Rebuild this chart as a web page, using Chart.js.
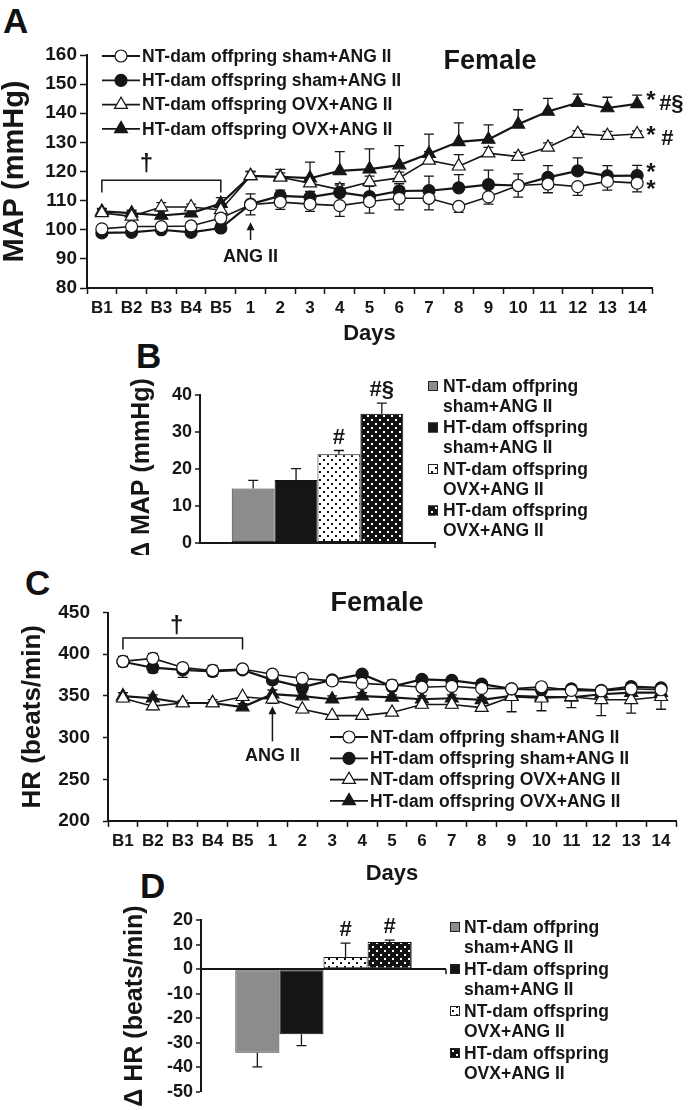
<!DOCTYPE html>
<html><head><meta charset="utf-8">
<script src="https://cdn.jsdelivr.net/npm/chart.js@4.4.1/dist/chart.umd.min.js"></script>
<style>
html,body{margin:0;padding:0;background:#fff;}
body{width:689px;height:1110px;position:relative;overflow:hidden;font-family:"Liberation Sans",Arial,Helvetica,sans-serif;}
.wrap{position:absolute;}
.letter{position:absolute;font-weight:bold;font-size:35px;line-height:1;color:#111;}
</style></head><body>
<div class="letter" style="left:3px;top:3px">A</div>
<div class="letter" style="left:136px;top:338px">B</div>
<div class="letter" style="left:25px;top:565px">C</div>
<div class="letter" style="left:140px;top:868px">D</div>
<div class="wrap" style="left:0;top:40px;width:689px;height:305px"><canvas id="cA"></canvas></div>
<div class="wrap" style="left:130px;top:370px;width:559px;height:185px"><canvas id="cB"></canvas></div>
<div class="wrap" style="left:20px;top:590px;width:669px;height:295px"><canvas id="cC"></canvas></div>
<div class="wrap" style="left:123px;top:905px;width:566px;height:205px"><canvas id="cD"></canvas></div>
<script>
// ---------------- data ----------------
const days = ['B1','B2','B3','B4','B5','1','2','3','4','5','6','7','8','9','10','11','12','13','14'];
const groupNames = ['NT-dam offpring sham+ANG II','HT-dam offspring sham+ANG II','NT-dam offspring OVX+ANG II','HT-dam offspring OVX+ANG II'];
const barLegendLines = [['NT-dam offpring','sham+ANG II'],['HT-dam offspring','sham+ANG II'],['NT-dam offspring','OVX+ANG II'],['HT-dam offspring','OVX+ANG II']];

// Panel A: MAP (mmHg)
const mapNTsham = [100.3,101.1,101.1,101.3,104.0,108.6,109.5,108.8,108.3,109.7,110.8,110.8,108.0,111.3,115.2,115.7,114.8,116.6,116.0];
const mapHTsham = [98.9,99.1,100.0,99.1,100.6,108.8,111.6,111.2,112.8,111.4,113.3,113.4,114.4,115.5,115.2,118.0,120.2,118.5,118.6];
const mapNTovx  = [105.8,104.6,107.8,107.8,106.8,118.5,118.0,116.0,113.8,116.4,117.8,123.8,121.8,126.3,125.1,128.3,133.0,132.3,132.9];
const mapHTovx  = [106.3,105.7,104.9,105.7,109.0,118.5,118.2,117.7,120.2,120.8,122.2,126.1,130.2,131.0,136.2,140.6,143.6,141.8,143.2];
const mapNTshamErr = [1.5,1.5,1.0,1.5,1.5,3.5,2.5,2.5,3.7,4.0,4.0,4.0,2.0,2.5,4.0,3.0,3.0,3.0,3.0];
const mapHTshamErr = [1.0,1.0,1.0,1.0,1.5,3.5,2.0,2.0,2.5,3.5,2.5,5.0,4.5,5.0,4.0,4.0,4.5,3.5,3.5];
const mapNTovxErr  = [1.0,1.5,1.5,1.0,2.0,1.5,1.5,2.0,2.0,2.0,2.0,3.0,4.0,2.0,1.5,1.5,1.0,1.5,1.0];
const mapHTovxErr  = [1.0,1.0,1.5,1.5,2.0,1.5,2.5,5.5,6.6,7.0,6.7,6.7,6.5,5.0,5.0,4.5,3.0,3.7,3.0];

// Panel B: delta MAP (mmHg)
const deltaMAP    = [14.7,17.0,24.0,34.9];
const deltaMAPErr = [2.2,3.1,1.0,2.9];
const deltaMAPSig = ['','','#','#§'];

// Panel C: HR (beats/min)
const hrNTsham = [391.4,395.0,384.0,380.5,382.3,376.0,371.0,368.0,365.0,363.0,360.4,361.5,359.0,358.5,361.0,356.6,356.0,358.5,357.4];
const hrHTsham = [391.0,383.8,381.2,379.3,381.2,369.2,360.5,369.2,376.0,361.3,369.8,368.7,364.2,358.5,357.4,358.5,356.6,361.2,359.7];
const hrNTovx  = [347.2,337.7,341.5,341.5,349.0,346.0,334.0,326.4,326.4,330.2,339.7,339.7,336.0,349.0,347.2,349.0,345.3,345.3,349.0];
const hrHTovx  = [349.8,347.2,341.5,341.5,336.6,352.1,349.8,346.0,349.8,348.3,346.0,347.2,345.3,350.0,349.0,348.3,352.0,354.0,354.0];
const hrNTshamErr = [6,6,5,6,3,3,3,3,4,6,5,4,3,4,4,4,4,3,3];
const hrHTshamErr = [6,6,9,6,4,5,5,6,5,5,5,4,4,5,5,6,5,3,5];
const hrNTovxErr  = [4,4,4,4,4,5,4,4,4,3,4,4,4,18,15,13,19,16,15];
const hrHTovxErr  = [4,4,3,4,4,5,4,4,4,3,4,4,3,4,4,4,4,4,4];

// Panel D: delta HR (beats/min)
const deltaHR    = [-34.0,-26.5,4.9,11.0];
const deltaHRErr = [5.8,4.6,5.7,0.8];
const deltaHRSig = ['','','#','#'];

// ---------------- styling helpers ----------------
const FF = '"Liberation Sans", Arial, Helvetica, sans-serif';
const INK = '#161616';
Chart.defaults.font.family = FF;
Chart.defaults.color = INK;
function fnt(size){ return {family:FF, size:size, weight:'bold', lineHeight:1}; }
function cssFont(size){ return 'bold ' + size + 'px ' + FF; }

function dotPattern(bg, fg){
  const c = document.createElement('canvas'); c.width = 8; c.height = 8;
  const g = c.getContext('2d');
  g.fillStyle = bg; g.fillRect(0,0,8,8);
  g.fillStyle = fg; g.fillRect(1,1,2,2); g.fillRect(5,5,2,2);
  return g.createPattern(c,'repeat');
}
const barFills = ['#8c8c8c','#151515',dotPattern('#ffffff','#111111'),dotPattern('#111111','#ffffff')];
const barBorders = ['#3a3a3a','#111111','#111111','#111111'];
const CIRCLE_R = 6, TRI_R = 7.5;

function drawMarker(ctx, style, filled, x, y){
  ctx.beginPath();
  if (style === 'circle') { ctx.arc(x, y, CIRCLE_R, 0, Math.PI*2); }
  else {
    for (let k=0;k<3;k++){ const a = k*2*Math.PI/3; const px = x + Math.sin(a)*TRI_R, py = y - Math.cos(a)*TRI_R; k? ctx.lineTo(px,py):ctx.moveTo(px,py); }
    ctx.closePath();
  }
  ctx.fillStyle = filled ? INK : '#fff'; ctx.fill();
  ctx.lineWidth = 1.2; ctx.strokeStyle = INK; ctx.stroke();
}

const EXTRA = {};
const X = (c,i) => c.scales.x.getPixelForValue(i);
const Y = (c,v) => c.scales.y.getPixelForValue(v);

const figPlugin = {
  id: 'figExtras',
  beforeDatasetsDraw(chart){
    const cfg = EXTRA[chart.canvas.id]; if (!cfg || !cfg.errors) return;
    const ctx = chart.ctx; ctx.save();
    ctx.strokeStyle = INK; ctx.lineWidth = 1.3;
    cfg.errors.forEach((errs, di) => {
      const meta = chart.getDatasetMeta(di);
      const vals = chart.data.datasets[di].data;
      meta.data.forEach((el, j) => {
        const v = vals[j], e = errs[j]; if (!e) return;
        const dir = cfg.dirs ? cfg.dirs[di] : (v >= 0 ? 1 : -1);
        const end = v + dir*e;
        const p0 = Y(chart, v), p1 = Y(chart, end), cap = cfg.cap || 4;
        ctx.beginPath(); ctx.moveTo(el.x, p0); ctx.lineTo(el.x, p1);
        ctx.moveTo(el.x-cap, p1); ctx.lineTo(el.x+cap, p1); ctx.stroke();
      });
    });
    ctx.restore();
  },
  afterDatasetsDraw(chart){
    const cfg = EXTRA[chart.canvas.id]; if (!cfg) return;
    const ctx = chart.ctx; ctx.save();
    ctx.strokeStyle = INK; ctx.fillStyle = INK;
    if (cfg.bracket){
      const b = cfg.bracket(chart);
      ctx.lineWidth = 1.5; ctx.beginPath();
      ctx.moveTo(b.x0, b.y1); ctx.lineTo(b.x0, b.y0); ctx.lineTo(b.x1, b.y0); ctx.lineTo(b.x1, b.y1); ctx.stroke();
    }
    if (cfg.arrow){
      const a = cfg.arrow(chart);
      ctx.lineWidth = 1.5; ctx.beginPath(); ctx.moveTo(a.x, a.y0); ctx.lineTo(a.x, a.y1+5); ctx.stroke();
      ctx.beginPath(); ctx.moveTo(a.x, a.y1); ctx.lineTo(a.x-4, a.y1+8); ctx.lineTo(a.x+4, a.y1+8); ctx.closePath(); ctx.fill();
    }
    (cfg.notes || []).forEach(n => {
      const p = n.pos(chart);
      ctx.font = cssFont(n.size); ctx.textAlign = n.align || 'center'; ctx.textBaseline = 'middle';
      ctx.fillStyle = INK; ctx.fillText(n.text, p.x, p.y);
    });
    if (cfg.endTick){
      const t = cfg.endTick(chart);
      ctx.lineWidth = 1.5; ctx.beginPath(); ctx.moveTo(t.x, t.y); ctx.lineTo(t.x, t.y+5); ctx.stroke();
    }
    if (cfg.lineLegend){
      const L = cfg.lineLegend;
      L.items.forEach((it, k) => {
        const y = L.y + k*L.dy;
        ctx.lineWidth = 1.8; ctx.strokeStyle = INK;
        ctx.beginPath(); ctx.moveTo(L.x, y); ctx.lineTo(L.x + L.len, y); ctx.stroke();
        drawMarker(ctx, it.style, it.filled, L.x + L.len/2, y);
        ctx.fillStyle = INK; ctx.font = cssFont(L.size); ctx.textAlign = 'left'; ctx.textBaseline = 'middle';
        ctx.fillText(it.text, L.x + L.len + 2, y + 1);
      });
    }
    if (cfg.barLegend){
      const L = cfg.barLegend;
      L.items.forEach((lines, k) => {
        const y = L.y + k*L.dy;
        ctx.fillStyle = barFills[k]; ctx.fillRect(L.x, y-5, 10, 10);
        ctx.lineWidth = 1; ctx.strokeStyle = '#222'; ctx.strokeRect(L.x+0.5, y-4.5, 9, 9);
        ctx.fillStyle = INK; ctx.font = cssFont(L.size); ctx.textAlign = 'left'; ctx.textBaseline = 'middle';
        lines.forEach((s, m) => ctx.fillText(s, L.tx, y + 1 + m*L.lh));
      });
    }
    ctx.restore();
  }
};

function lineDs(label, data, style, filled, width){
  return {label, data, borderColor: INK, borderWidth: width, pointStyle: style,
    pointRadius: style === 'circle' ? CIRCLE_R : TRI_R, pointBackgroundColor: filled ? INK : '#fff',
    pointBorderColor: INK, pointBorderWidth: 1.2, tension: 0, fill: false};
}

function lineOptions(o){
  return {
    responsive: true, maintainAspectRatio: false, animation: false, events: [],
    layout: {padding: o.pad},
    plugins: {legend: {display: false}, tooltip: {enabled: false}},
    scales: {
      x: {offset: true,
          grid: {offset: true, drawOnChartArea: false, drawTicks: true, tickLength: 6, tickColor: INK, tickWidth: 1.5},
          border: {color: INK, width: 2},
          ticks: {font: fnt(o.xtick), color: INK, padding: o.xpad, maxRotation: 0, autoSkip: false},
          title: {display: true, text: 'Days', font: fnt(22), color: INK, padding: {top: 0, bottom: 0}},
          afterFit: s => { s.height = o.xh; }},
      y: {min: o.min, max: o.max,
          grid: {drawOnChartArea: false, drawTicks: true, tickLength: o.tl, tickColor: INK, tickWidth: 1.5},
          border: {color: INK, width: 2},
          ticks: {stepSize: o.step, font: fnt(o.ytick), color: INK, padding: o.ypad},
          title: {display: true, text: o.ytitle, font: fnt(o.ytsize), color: INK, padding: {top: 0, bottom: 0}},
          afterFit: s => { s.width = o.yw; }}
    }
  };
}

// ---------------- Panel A ----------------
EXTRA.cA = {
  errors: [mapNTshamErr, mapHTshamErr, mapNTovxErr, mapHTovxErr], dirs: [-1, 1, 1, 1], cap: 5,
  bracket: c => ({x0: X(c,0), x1: X(c,4), y0: Y(c,117), y1: Y(c,112.8)}),
  arrow: c => ({x: X(c,5), y0: Y(c,96.5), y1: Y(c,102.6)}),
  notes: [
    {text: 'Female', size: 27, pos: c => ({x: 490, y: 22})},
    {text: 'ANG II', size: 18, pos: c => ({x: X(c,5), y: Y(c,90.8)})},
    {text: '†', size: 24, pos: c => ({x: (X(c,1)+X(c,2))/2, y: Y(c,122.5)})},
    {text: '*', size: 24, align: 'left', pos: c => ({x: X(c,18)+9, y: Y(c,mapHTovx[18])-3})},
    {text: '#§', size: 22, align: 'left', pos: c => ({x: X(c,18)+22, y: Y(c,mapHTovx[18])})},
    {text: '*', size: 24, align: 'left', pos: c => ({x: X(c,18)+9, y: Y(c,mapNTovx[18])+2})},
    {text: '#', size: 22, align: 'left', pos: c => ({x: X(c,18)+24, y: Y(c,mapNTovx[18])+5})},
    {text: '*', size: 24, align: 'left', pos: c => ({x: X(c,18)+9, y: Y(c,mapHTsham[18])-2})},
    {text: '*', size: 24, align: 'left', pos: c => ({x: X(c,18)+9, y: Y(c,mapNTsham[18])+7})}
  ],
  lineLegend: {x: 102, y: 16, dy: 24.3, len: 38, size: 17.5, items: [
    {text: groupNames[0], style: 'circle', filled: false},
    {text: groupNames[1], style: 'circle', filled: true},
    {text: groupNames[2], style: 'triangle', filled: false},
    {text: groupNames[3], style: 'triangle', filled: true}]}
};
new Chart(document.getElementById('cA'), {
  type: 'line',
  data: {labels: days, datasets: [
    lineDs(groupNames[0], mapNTsham, 'circle', false, 1.6),
    lineDs(groupNames[1], mapHTsham, 'circle', true, 2.2),
    lineDs(groupNames[2], mapNTovx, 'triangle', false, 1.6),
    lineDs(groupNames[3], mapHTovx, 'triangle', true, 2.2)]},
  options: lineOptions({pad: {top: 15, right: 37, left: 0, bottom: 0}, xtick: 17, xpad: 6, xh: 57,
    min: 80, max: 160, step: 10, tl: 7, ytick: 19, ypad: 3, ytitle: 'MAP (mmHg)', ytsize: 29, yw: 87}),
  plugins: [figPlugin]
});

// ---------------- Panel C ----------------
EXTRA.cC = {
  errors: [hrNTshamErr, hrHTshamErr, hrNTovxErr, hrHTovxErr], dirs: [1, -1, -1, 1], cap: 5,
  bracket: c => ({x0: X(c,0), x1: X(c,4), y0: Y(c,419.3), y1: Y(c,405.7)}),
  arrow: c => ({x: X(c,5), y0: Y(c,295.5), y1: Y(c,337.5)}),
  notes: [
    {text: 'Female', size: 27, pos: c => ({x: 357, y: 14})},
    {text: 'ANG II', size: 18, pos: c => ({x: X(c,5), y: Y(c,278.4)})},
    {text: '†', size: 24, pos: c => ({x: X(c,1) + 0.8*(X(c,2)-X(c,1)), y: Y(c,433)})}
  ],
  lineLegend: {x: 310, y: 147, dy: 21.3, len: 38, size: 17.5, items: [
    {text: groupNames[0], style: 'circle', filled: false},
    {text: groupNames[1], style: 'circle', filled: true},
    {text: groupNames[2], style: 'triangle', filled: false},
    {text: groupNames[3], style: 'triangle', filled: true}]}
};
new Chart(document.getElementById('cC'), {
  type: 'line',
  data: {labels: days, datasets: [
    lineDs(groupNames[0], hrNTsham, 'circle', false, 1.6),
    lineDs(groupNames[1], hrHTsham, 'circle', true, 2.2),
    lineDs(groupNames[2], hrNTovx, 'triangle', false, 1.6),
    lineDs(groupNames[3], hrHTovx, 'triangle', true, 2.2)]},
  options: lineOptions({pad: {top: 11, right: 13, left: 0, bottom: 0}, xtick: 17, xpad: 6, xh: 64,
    min: 200, max: 450, step: 50, tl: 5, ytick: 19, ypad: 13, ytitle: 'HR (beats/min)', ytsize: 26, yw: 88}),
  plugins: [figPlugin]
});

// ---------------- Bar panels ----------------
function barOptions(o){
  return {
    responsive: true, maintainAspectRatio: false, animation: false, events: [],
    layout: {padding: o.pad},
    datasets: {bar: {categoryPercentage: o.cp, barPercentage: 1}},
    plugins: {legend: {display: false}, tooltip: {enabled: false}},
    scales: {
      x: {display: o.xdisp, grid: {display: false}, ticks: {display: false},
          border: {display: true, color: INK, width: 2}, afterFit: s => { s.height = 0; }},
      y: {min: o.min, max: o.max,
          grid: {drawOnChartArea: o.zeroLine, drawTicks: true, tickLength: 5, tickColor: INK, tickWidth: 1.5,
                 color: ctx => (ctx.tick && ctx.tick.value === 0) ? INK : 'rgba(0,0,0,0)',
                 lineWidth: ctx => (ctx.tick && ctx.tick.value === 0) ? 2 : 0},
          border: {color: INK, width: 2},
          ticks: {stepSize: 10, font: fnt(o.ytick), color: INK, padding: 3},
          title: {display: true, text: o.ytitle, font: fnt(o.ytsize), color: INK, padding: {top: 0, bottom: 0}},
          afterFit: s => { s.width = o.yw; }}
    }
  };
}
function barData(vals){
  return {labels: [''], datasets: vals.map((v, k) => ({label: groupNames[k], data: [v],
    backgroundColor: barFills[k], borderColor: barBorders[k], borderWidth: 1, borderSkipped: false}))};
}

EXTRA.cB = {
  errors: deltaMAPErr.map(e => [e]), cap: 5,
  notes: deltaMAPSig.map((s, k) => ({text: s, size: 22,
    pos: c => ({x: c.getDatasetMeta(k).data[0].x, y: Y(c, deltaMAP[k] + deltaMAPErr[k]) - 13})})).filter(n => n.text),
  endTick: c => ({x: c.chartArea.right, y: Y(c,0)}),
  barLegend: {x: 298, tx: 313, y: 16, dy: 41.5, lh: 20, size: 17.5, items: barLegendLines}
};
new Chart(document.getElementById('cB'), {
  type: 'bar', data: barData(deltaMAP),
  options: barOptions({pad: {top: 25, right: 254, left: 0, bottom: 8}, cp: 0.73, xdisp: true, zeroLine: false,
    min: 0, max: 40, ytick: 18, ytitle: 'Δ MAP (mmHg)', ytsize: 25, yw: 70}),
  plugins: [figPlugin]
});

EXTRA.cD = {
  errors: deltaHRErr.map(e => [e]), cap: 5,
  notes: deltaHRSig.map((s, k) => ({text: s, size: 22,
    pos: c => ({x: c.getDatasetMeta(k).data[0].x, y: Y(c, deltaHR[k] + deltaHRErr[k]) - 13})})).filter(n => n.text),
  endTick: c => ({x: c.chartArea.right, y: Y(c,0)}),
  barLegend: {x: 327, tx: 341, y: 22, dy: 42, lh: 20, size: 17.5, items: barLegendLines}
};
new Chart(document.getElementById('cD'), {
  type: 'bar', data: barData(deltaHR),
  options: barOptions({pad: {top: 15, right: 243, left: 0, bottom: 18}, cp: 0.72, xdisp: false, zeroLine: true,
    min: -50, max: 20, ytick: 18, ytitle: 'Δ HR (beats/min)', ytsize: 25, yw: 78}),
  plugins: [figPlugin]
});
</script>
</body></html>
